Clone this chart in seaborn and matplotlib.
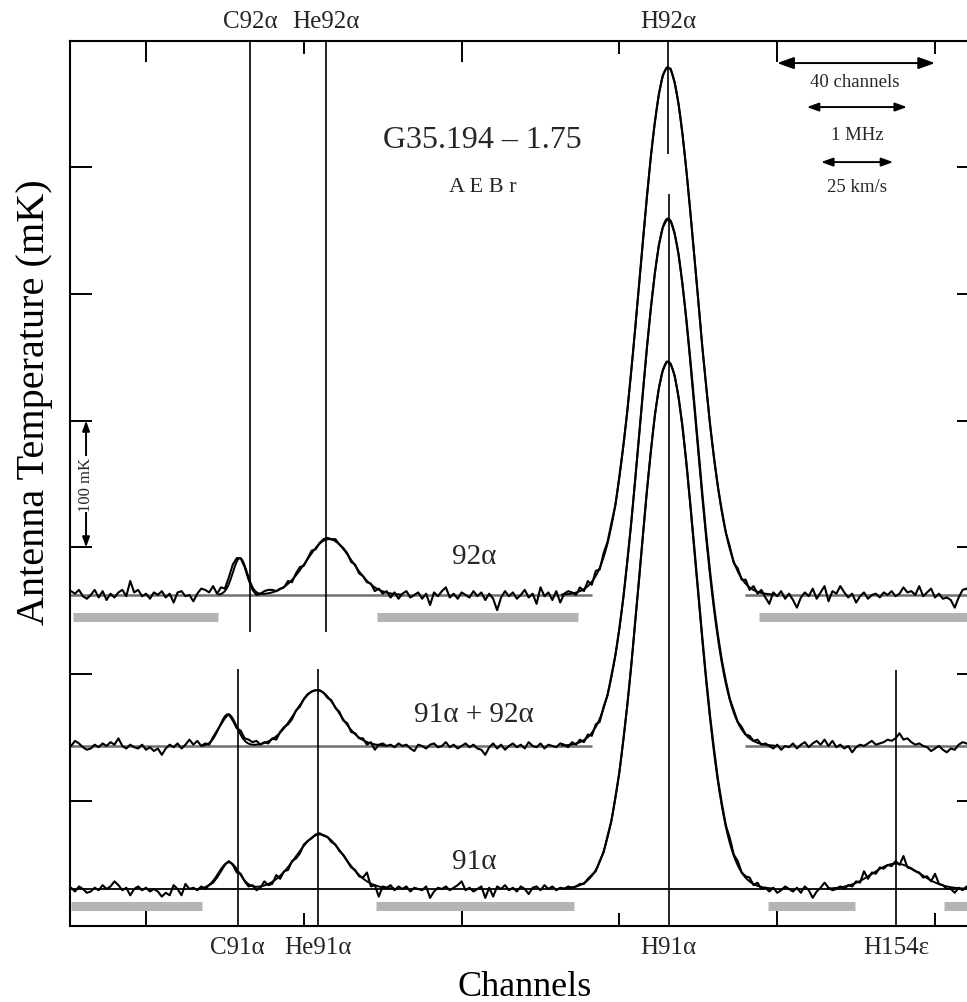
import numpy as np
import pandas as pd
import matplotlib
matplotlib.use("Agg")
import matplotlib.pyplot as plt
import matplotlib.transforms as mtransforms
from matplotlib.ticker import NullLocator
import seaborn as sns

# ---------------- data (antenna temperature in mK, per channel 1..231) ----------------
obs_92 = [
    3, 1, 4, -1, -3, 0, 4, -2, 3, -4,
    1, -2, 2, 4, -1, 11, 2, 4, -1, 1,
    -3, 2, 0, 3, -2, 1, -6, 2, 3, -1,
    0, -5, 1, 5, 4, 2, 7, 1, 6, 5,
    14, 24, 29, 29, 22, 12, 4, 0, 1, 3,
    4, 4, 3, 5, 6, 11, 10, 17, 22, 23,
    29, 35, 36, 41, 44, 45, 44, 44, 40, 37,
    33, 26, 24, 17, 15, 10, 9, 3, 5, 1,
    3, -2, 2, -3, 1, 3, -2, 0, 2, -3,
    1, -8, 2, -1, 3, 6, -2, 1, -3, 2,
    0, -2, 3, -1, 2, -4, 1, -3, -12, -2,
    3, -1, 2, -3, 0, 4, -2, 1, -7, 6,
    -1, 2, -4, 3, -6, 1, 3, 2, 0, 6,
    3, 11, 8, 19, 20, 33, 42, 57, 71, 94,
    118, 145, 177, 210, 246, 281, 315, 347, 373, 395,
    410, 416, 415, 404, 387, 363, 334, 301, 267, 232,
    196, 165, 134, 108, 85, 66, 49, 38, 25, 21,
    12, 12, 4, 7, 1, 4, -2, -7, 2, -1,
    3, -3, 1, -4, -10, -2, 2, -1, 5, -3,
    2, 7, -5, 3, 1, 7, 2, -2, 1, -6,
    -1, 2, -3, 0, 1, -2, 2, 0, 3, -1,
    1, 6, 2, 3, 0, 7, -1, 2, 5, -2,
    1, -3, -2, -4, -10, -2, 4, 5, 1, -2, 2,
]
obs_mix = [
    0, 4, 2, -1, -3, -2, 1, -1, 2, 0,
    3, 1, 6, 0, -2, 1, -1, -2, 1, -3,
    -1, -4, -2, -7, -2, 1, -1, 2, -2, 1,
    5, 1, 4, 0, 2, 1, 7, 12, 17, 22,
    25, 20, 14, 12, 6, 5, 3, 4, 1, 3,
    2, 6, 5, 11, 15, 17, 21, 28, 31, 37,
    41, 43, 44, 44, 42, 38, 36, 30, 27, 20,
    18, 11, 10, 6, 6, 1, 3, -3, 1, 2,
    0, 1, -1, 2, 0, 1, -2, -4, 1, 0,
    -2, 1, 2, -1, 0, 3, -1, 1, -2, 0,
    2, -1, 1, -2, -3, -7, -1, 2, -2, 1,
    -3, 0, 2, -1, 1, -2, 3, 0, -1, 2,
    -2, 1, 0, -1, 2, 1, -1, 3, 1, 5,
    3, 9, 8, 17, 19, 31, 40, 56, 72, 93,
    117, 146, 176, 210, 245, 281, 315, 346, 373, 395,
    409, 415, 414, 404, 388, 364, 336, 304, 270, 235,
    200, 167, 137, 110, 87, 67, 51, 37, 28, 19,
    15, 9, 8, 4, 5, 1, 2, 0, -2, 1,
    -3, 0, -1, 2, -2, 1, 3, -1, 2, 4,
    1, 5, 0, 4, -1, 1, -2, 0, -5, -1,
    1, 0, 2, 4, 1, 2, 3, 5, 4, 6,
    10, 5, 6, 3, 1, 2, 0, -1, -4, -2,
    0, -3, -5, -2, -3, 1, 3, 2, 0, 1, -1,
]
obs_91 = [
    1, -2, 2, 0, -3, -2, 1, -1, 3, 0,
    2, 6, 3, -1, 1, -5, 0, 2, -1, 1,
    -2, 0, -2, -6, -3, -5, 3, 0, -5, 4,
    0, 1, -1, 2, 0, 3, 5, 9, 14, 19,
    22, 19, 13, 12, 6, 2, 3, -1, 1, 6,
    3, 4, 11, 8, 14, 15, 22, 24, 28, 35,
    38, 40, 43, 44, 42, 41, 37, 35, 30, 27,
    22, 17, 15, 10, 9, 13, 2, 3, -6, 2,
    1, 3, -1, 2, 0, 2, -2, 1, 0, -1,
    2, -7, -2, 1, 0, 2, -1, 1, 3, 6,
    -1, 1, -2, 0, 2, -7, 1, -6, 2, 0,
    3, -1, 1, -2, 2, 0, -4, 1, 2, -1,
    3, 0, 2, -1, 1, 0, 2, 1, 2, 4,
    4, 8, 11, 14, 22, 29, 42, 54, 73, 92,
    118, 145, 176, 211, 245, 281, 315, 346, 374, 395,
    409, 416, 414, 405, 388, 365, 336, 303, 269, 234,
    199, 166, 136, 110, 86, 67, 50, 40, 27, 22,
    13, 10, 9, 3, 5, 0, 1, -2, 1, -3,
    -1, 2, 0, -2, 1, -3, 2, -1, -7, -2,
    1, 5, 1, -1, 0, 2, 0, 3, 2, 6,
    5, 14, 8, 13, 12, 17, 16, 19, 18, 22,
    19, 26, 17, 16, 14, 13, 9, 10, 6, 12,
    4, 3, 0, 0, -3, 1, -1, 2, 0, -2, 1,
]

# Gaussian fit components (centre channel, peak mK, sigma in channels)
fit92_center = [43.8, 66.4, 152.3]
fit92_amp = [29, 44, 416]
fit92_sigma = [1.8, 5.8, 7.1]

fitmix_center = [40.8, 63.3, 152.3]
fitmix_amp = [25, 44, 416]
fitmix_sigma = [2.2, 5.5, 7.1]

fit91_center = [41.0, 64.1, 152.3, 210.1]
fit91_amp = [21, 43, 416, 20]
fit91_sigma = [2.6, 6.0, 7.1, 6.0]

# line identifications (rest channel)
line92_labels = ["C92α", "He92α", "H92α"]
line92_chan = [46.4, 65.6, 152.3]
line91_labels = ["C91α", "He91α", "H91α", "H154ε"]
line91_chan = [43.2, 63.6, 152.5, 210.1]

spectrum_labels = ["92α", "91α + 92α", "91α"]

# channel ranges used for baseline fitting (grey bars)
base92_start = [1.5, 78.6, 175.4]
base92_end = [38.2, 129.5, 232.0]
base91_start = [1.0, 78.3, 177.7, 222.3]
base91_end = [34.2, 128.5, 199.7, 232.0]

y_ticks = [100, 200, 300, 400, 500, 600]
x_major = [20, 100, 180]
x_minor = [60, 140, 220]

for arr in (obs_92, obs_mix, obs_91):
    assert len(arr) == 231, len(arr)

# ---------------- style ----------------
sns.set_theme(style="white")
plt.rcParams["font.family"] = ["Liberation Serif", "DejaVu Serif"]

W, H = 967, 1003
fig = plt.figure(figsize=(W / 100, H / 100), dpi=100)
ax = fig.add_axes([70 / W, 76 / H, 909 / W, 885 / H])

XLIM = (0.73, 231.15)
YLIM = (1.4, 699.4)
off92, offmix, off91 = 262.5, 143.4, 30.6

channels = np.arange(1, 232)
frames = []
for name, vals, off in (("92", obs_92, off92), ("mix", obs_mix, offmix), ("91", obs_91, off91)):
    frames.append(pd.DataFrame({"channel": channels,
                                "T": np.asarray(vals, float) + off,
                                "spectrum": name}))
df = pd.concat(frames, ignore_index=True)

# grey baseline-fit regions
for s, e in zip(base92_start, base92_end):
    ax.hlines(off92 - 17.4, s, e, color="#b4b4b4", lw=6.5, zorder=1)
for s, e in zip(base91_start, base91_end):
    ax.hlines(off91 - 13.4, s, e, color="#b4b4b4", lw=6.5, zorder=1)

# baselines
for off in (off92, offmix):
    ax.hlines(off, XLIM[0], 133.0, color="#707070", lw=1.8, zorder=1.5)
    ax.hlines(off, 171.8, XLIM[1], color="#707070", lw=1.8, zorder=1.5)
ax.hlines(off91, XLIM[0], XLIM[1], color="black", lw=1.3, zorder=1.5)

# vertical line markers
vkw = dict(color="black", lw=1.2, zorder=2)
ax.vlines(line92_chan[:2], off92 - 29.2, YLIM[1], **vkw)
ax.vlines(line92_chan[2], 610, YLIM[1], **vkw)
ax.vlines(line91_chan[:2], YLIM[0], offmix + 60.6, **vkw)
ax.vlines(line91_chan[2], YLIM[0], 578.7, **vkw)
ax.vlines(line91_chan[3], YLIM[0], offmix + 59.8, **vkw)

# observed spectra
sns.lineplot(data=df, x="channel", y="T", units="spectrum", estimator=None,
             color="black", lw=1.5, legend=False, ax=ax, zorder=3)

# fitted model
xf = np.arange(XLIM[0], XLIM[1], 0.1)
for cen, amp, sig, off in ((fit92_center, fit92_amp, fit92_sigma, off92),
                           (fitmix_center, fitmix_amp, fitmix_sigma, offmix),
                           (fit91_center, fit91_amp, fit91_sigma, off91)):
    model = np.zeros_like(xf)
    for c, a, s in zip(cen, amp, sig):
        model += a * np.exp(-0.5 * ((xf - c) / s) ** 2)
    m = np.where(model > 0.3, model + off, np.nan)
    ax.plot(xf, m, color="black", lw=1.4, zorder=3)

# axes
ax.set_xlim(*XLIM)
ax.set_ylim(*YLIM)
ax.set_xticks(x_major)
ax.set_xticks(x_minor, minor=True)
ax.set_yticks(y_ticks)
ax.yaxis.set_minor_locator(NullLocator())
ax.tick_params(axis="both", which="both", direction="in", top=True, right=True,
               bottom=True, left=True, labelbottom=False, labelleft=False,
               width=1.4, color="black")
ax.tick_params(axis="x", which="major", length=15)
ax.tick_params(axis="x", which="minor", length=9.5)
ax.tick_params(axis="y", which="major", length=16)
for sp in ax.spines.values():
    sp.set_visible(True)
    sp.set_linewidth(1.5)
    sp.set_color("black")
ax.grid(False)

ax.set_ylabel("Antenna Temperature (mK)", fontsize=29, color="black")
ax.yaxis.set_label_coords(-0.019, 0.593)
ax.set_xlabel("Channels", fontsize=26, color="black")
ax.xaxis.set_label_coords(0.5, -0.05)

# line labels
tr = mtransforms.blended_transform_factory(ax.transData, ax.transAxes)
for lab, c in zip(line92_labels, line92_chan):
    ax.text(c, 1.0226, lab, transform=tr, ha="center", va="center", fontsize=18)
for lab, c in zip(line91_labels, line91_chan):
    ax.text(c, -0.0237, lab, transform=tr, ha="center", va="center", fontsize=18)

# spectrum labels
for lab, y in zip(spectrum_labels, (off92 + 30.7, offmix + 25.2, off91 + 22.1)):
    ax.text(103.1, y, lab, ha="center", va="center", fontsize=21)

ax.text(105.2, 622.1, "G35.194 – 1.75", ha="center", va="center", fontsize=23)
ax.text(105.4, 585.0, "A E B r", ha="center", va="center", fontsize=16)

# scale bars
def darrow(x0, x1, y0, y1, ms, hl=0.5, hw=0.18):
    ax.annotate("", xy=(x1, y1), xytext=(x0, y0),
                arrowprops=dict(arrowstyle=f"<|-|>,head_length={hl},head_width={hw}",
                                color="black", lw=1.4, shrinkA=0, shrinkB=0,
                                mutation_scale=ms))

darrow(180, 220, 682, 682, 20)
ax.text(199.7, 667.8, "40 channels", ha="center", va="center", fontsize=13.5)
darrow(187.5, 212.9, 647.3, 647.3, 14)
ax.text(200.2, 626.0, "1 MHz", ha="center", va="center", fontsize=13.5)
darrow(191.1, 209.4, 603.9, 603.9, 14)
ax.text(200.2, 585.0, "25 km/s", ha="center", va="center", fontsize=13.5)

darrow(4.8, 4.8, 300, 400, 12)
ax.text(4.8, 350, "100 mK", rotation=90, ha="center", va="center", fontsize=12,
        bbox=dict(facecolor="white", edgecolor="none", pad=0.5))

fig.savefig("out.png", dpi=100, facecolor="white")
